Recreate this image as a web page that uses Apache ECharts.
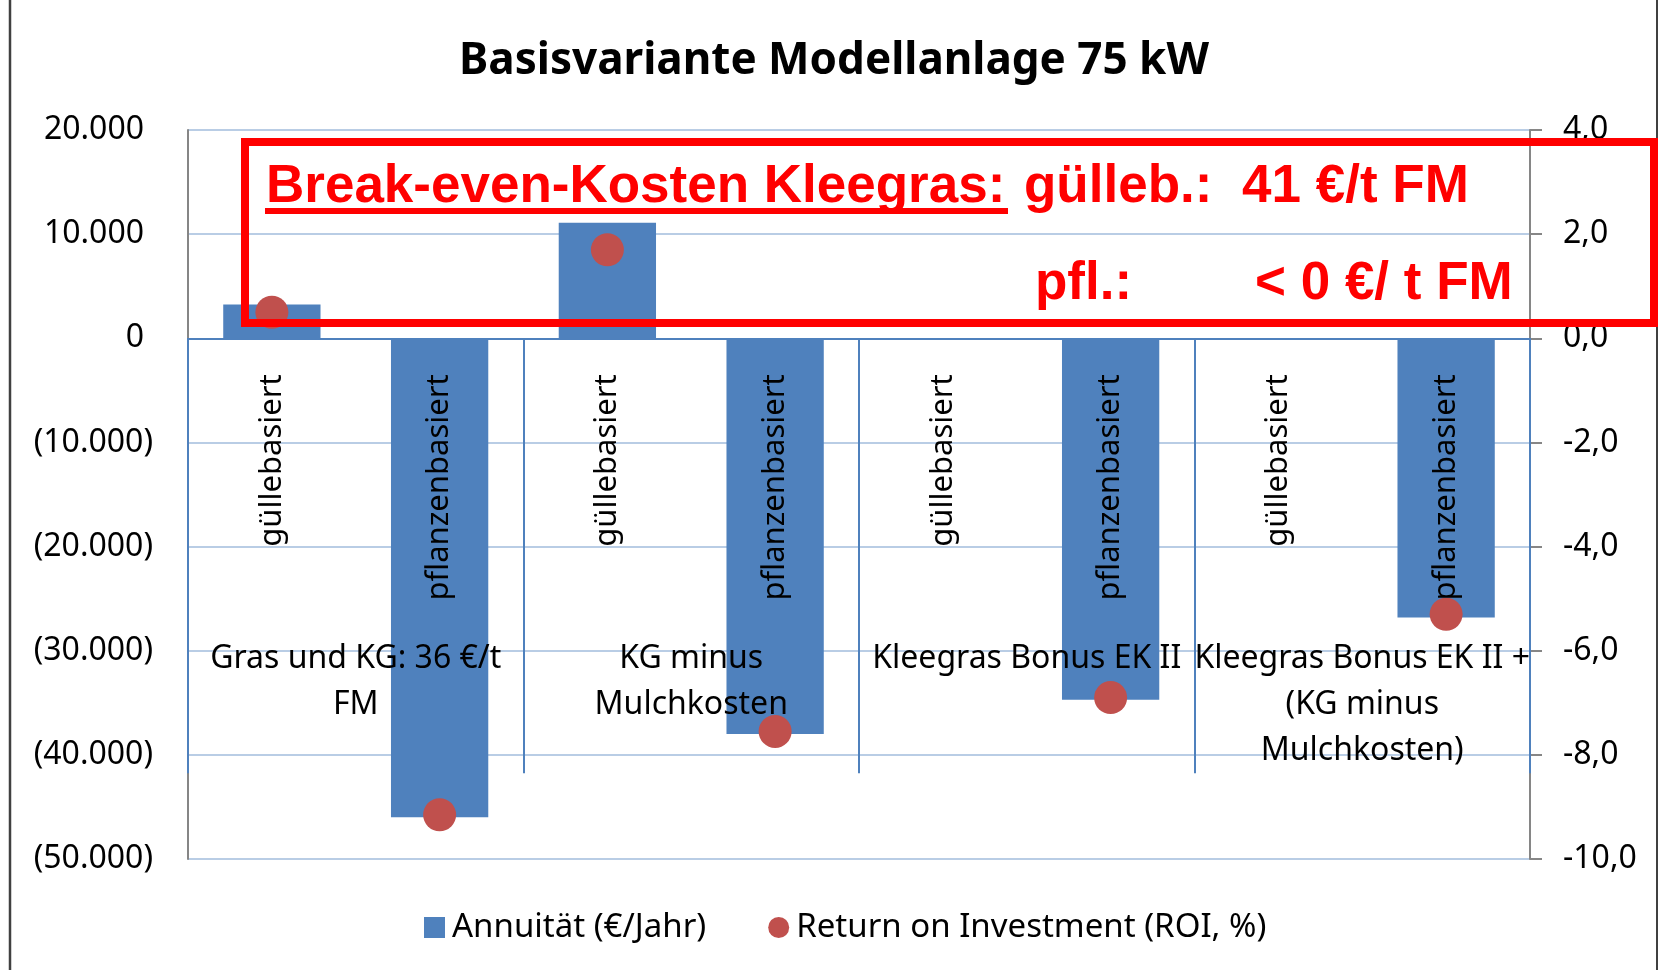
<!DOCTYPE html>
<html>
<head>
<meta charset="utf-8">
<title>Basisvariante Modellanlage 75 kW</title>
<script src="https://cdn.jsdelivr.net/npm/echarts@6/dist/echarts.min.js"></script>
<style>
  html, body {
    margin: 0;
    padding: 0;
    background: #fff;
  }
  #chart {
    width: 1658px;
    height: 970px;
  }
</style>
</head>
<body>
<div id="chart"></div>
<script>
  // Kategorien (zweistufig: Variante + Anlagentyp)
  let anlagen = ['güllebasiert', 'pflanzenbasiert', 'güllebasiert', 'pflanzenbasiert',
    'güllebasiert', 'pflanzenbasiert', 'güllebasiert', 'pflanzenbasiert']
  let varianten = ['Gras und KG: 36 €/t\nFM', 'KG minus\nMulchkosten', 'Kleegras Bonus EK II',
    'Kleegras Bonus EK II +\n(KG minus\nMulchkosten)']

  // Werte
  let annuitaet = [3240, -46000, 11100, -38000, null, -34700, null, -26800]
  let roi = [0.5, -9.15, 1.7, -7.55, null, -6.9, null, -5.3]

  // Achsen
  let euroMin = -50000, euroMax = 20000, euroStep = 10000
  let roiMin = -10, roiMax = 4, roiStep = 2

  let blau = '#4F81BD'
  let rot = '#C0504D'
  let gitter = '#B9CDE5'
  let font = '"Noto Sans", "Open Sans", sans-serif'
  let redFont = 'bold 53px "Liberation Sans", Arial, sans-serif'

  // Plotbereich
  let gridTop = 130, gridBottom = 111, chartH = 970
  let plotH = chartH - gridTop - gridBottom
  // Abstand Nulllinie -> Unterkante Plot (Kategorieachse liegt auf 0)
  let zeroOffset = plotH * (0 - euroMin) / (euroMax - euroMin)

  function euroLabel(v) {
    let s = Math.abs(v).toString().replace(/\B(?=(\d{3})+(?!\d))/g, '.')
    if (v < 0) return '(' + s + ')'
    return '{pos|' + s + '}'
  }

  let myChart = echarts.init(document.getElementById('chart'))
  let option = {
    animation: false,
    backgroundColor: '#fff',
    title: {
      text: 'Basisvariante Modellanlage 75 kW',
      left: 829,
      top: 34,
      textAlign: 'center',
      textStyle: {
        fontFamily: font,
        fontSize: 44,
        fontWeight: 'bold',
        color: '#000'
      }
    },
    legend: {
      left: 419,
      top: 906,
      itemWidth: 21,
      itemHeight: 21,
      itemGap: 62,
      textStyle: {
        fontFamily: font,
        fontSize: 33,
        color: '#000',
        padding: [0, 0, 0, 2]
      },
      data: [
        {name: 'Annuität (€/Jahr)', icon: 'rect'},
        {name: 'Return on Investment (ROI, %)', icon: 'circle'}
      ]
    },
    grid: {
      left: 188,
      right: 128,
      top: gridTop,
      bottom: gridBottom,
      outerBoundsMode: 'none'
    },
    xAxis: [
      {
        type: 'category',
        data: anlagen,
        position: 'bottom',
        offset: -zeroOffset,
        z: 10,
        axisLine: {show: true, onZero: false, lineStyle: {color: blau, width: 2}},
        axisTick: {show: false},
        axisLabel: {
          interval: 0,
          rotate: 90,
          margin: 36,
          fontFamily: font,
          fontSize: 31,
          color: '#000'
        }
      },
      {
        type: 'category',
        data: varianten,
        position: 'bottom',
        offset: -zeroOffset,
        z: 10,
        axisLine: {show: true, onZero: false, lineStyle: {color: blau, width: 2}},
        axisTick: {show: true, interval: 0, length: 435, lineStyle: {color: blau, width: 2}},
        axisLabel: {
          interval: 0,
          margin: 298,
          fontFamily: font,
          fontSize: 32,
          lineHeight: 46,
          color: '#000'
        }
      }
    ],
    yAxis: [
      {
        type: 'value',
        min: euroMin,
        max: euroMax,
        interval: euroStep,
        axisLine: {show: true, lineStyle: {color: '#868686', width: 2}},
        axisTick: {show: false},
        splitLine: {show: true, lineStyle: {color: gitter, width: 2}},
        axisLabel: {
          margin: 35,
          fontFamily: font,
          fontSize: 32,
          color: '#000',
          formatter: euroLabel,
          rich: {
            pos: {fontFamily: font, fontSize: 32, color: '#000', padding: [0, 9, 0, 0]}
          }
        }
      },
      {
        type: 'value',
        min: roiMin,
        max: roiMax,
        interval: roiStep,
        position: 'right',
        axisLine: {show: true, lineStyle: {color: '#868686', width: 2}},
        axisTick: {show: true, length: 12, lineStyle: {color: '#868686', width: 2}},
        splitLine: {show: false},
        axisLabel: {
          margin: 33,
          fontFamily: font,
          fontSize: 32,
          color: '#000',
          formatter: function (v) {
            return v.toFixed(1).replace('.', ',')
          }
        }
      }
    ],
    series: [
      {
        name: 'Annuität (€/Jahr)',
        type: 'bar',
        xAxisIndex: 0,
        yAxisIndex: 0,
        barWidth: '58%',
        itemStyle: {color: blau},
        data: annuitaet
      },
      {
        name: 'Return on Investment (ROI, %)',
        type: 'scatter',
        xAxisIndex: 0,
        yAxisIndex: 1,
        symbol: 'circle',
        symbolSize: 33,
        itemStyle: {color: rot, opacity: 1},
        z: 5,
        data: roi
      }
    ],
    // Rahmen und roter Hinweiskasten
    graphic: [
      {type: 'line', shape: {x1: 10, y1: 0, x2: 10, y2: 970}, style: {stroke: '#404040', lineWidth: 2.5}},
      {type: 'line', shape: {x1: 1657, y1: 0, x2: 1657, y2: 970}, style: {stroke: '#404040', lineWidth: 2}},
      {
        type: 'rect', z: 100,
        shape: {x: 245, y: 142, width: 1409, height: 181},
        style: {fill: 'none', stroke: '#FF0000', lineWidth: 8}
      },
      {
        type: 'text', z: 100, x: 266, y: 187,
        style: {text: 'Break-even-Kosten Kleegras:', fill: '#FF0000', font: redFont, verticalAlign: 'middle'}
      },
      {type: 'rect', z: 100, shape: {x: 265, y: 208, width: 743, height: 6}, style: {fill: '#FF0000'}},
      {
        type: 'text', z: 100, x: 1024, y: 187,
        style: {text: 'gülleb.:', fill: '#FF0000', font: redFont, verticalAlign: 'middle'}
      },
      {
        type: 'text', z: 100, x: 1242, y: 187,
        style: {text: '41 €/t FM', fill: '#FF0000', font: redFont, verticalAlign: 'middle'}
      },
      {
        type: 'text', z: 100, x: 1035, y: 284,
        style: {text: 'pfl.:', fill: '#FF0000', font: redFont, verticalAlign: 'middle'}
      },
      {
        type: 'text', z: 100, x: 1255, y: 284,
        style: {text: '< 0 €/ t FM', fill: '#FF0000', font: redFont, verticalAlign: 'middle'}
      }
    ]
  }

  myChart.setOption(option)
</script>
</body>
</html>
